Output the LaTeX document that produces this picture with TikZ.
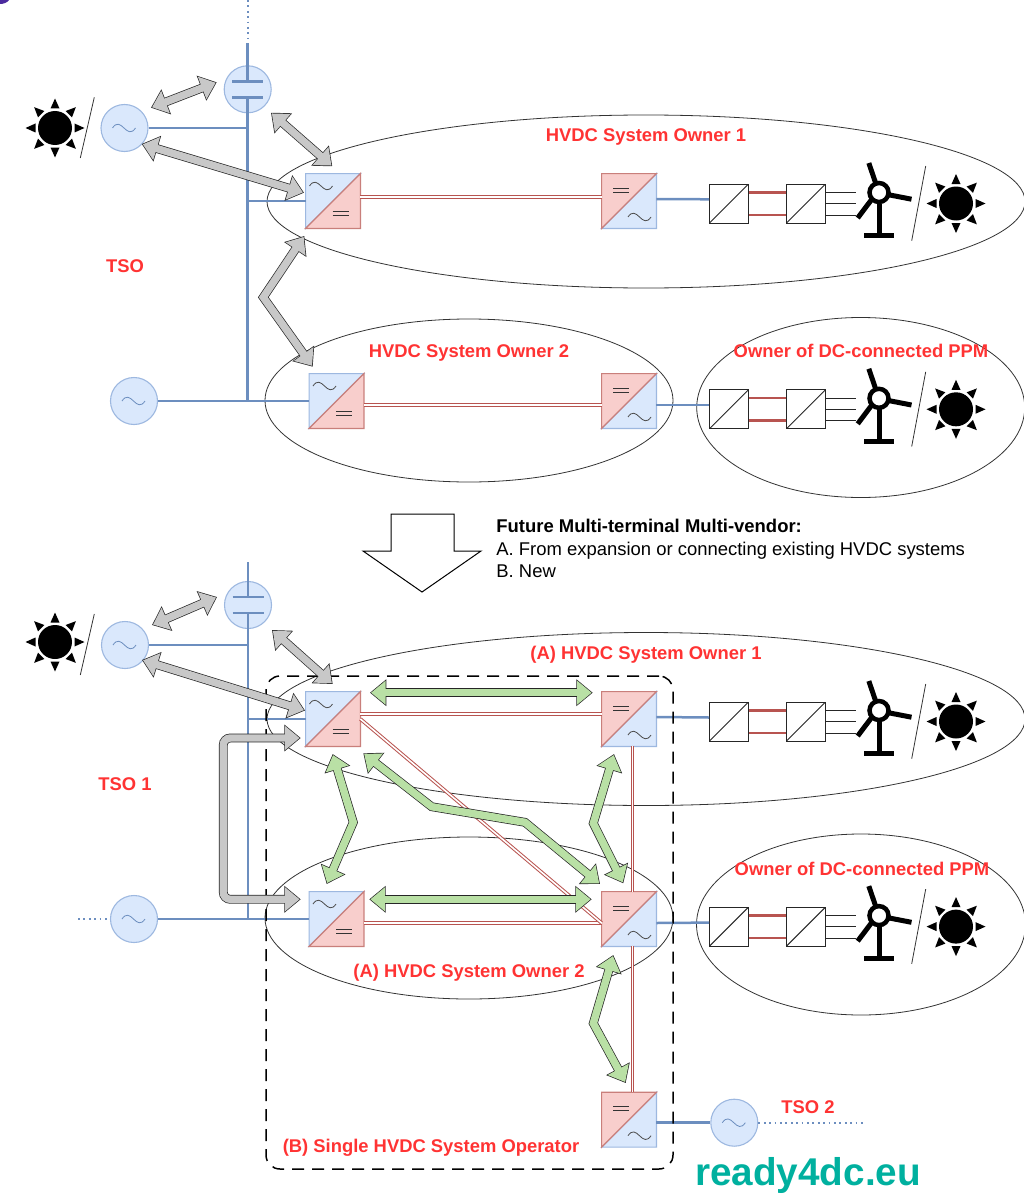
\documentclass[tikz,border=0pt]{standalone}
\usepackage{fontspec}
\setmainfont{Liberation Sans}
\usetikzlibrary{arrows.meta, shapes.geometric, calc}
\definecolor{acfill}{HTML}{DAE8FC}
\definecolor{acedge}{HTML}{9DB8E0}
\definecolor{busline}{HTML}{6C8EBF}
\definecolor{dcfill}{HTML}{F8CECC}
\definecolor{dcedge}{HTML}{C97F7B}
\definecolor{dcbar}{HTML}{B85450}
\definecolor{flowgray}{HTML}{C8C8C8}
\definecolor{flowgreen}{HTML}{B9E0A5}
\definecolor{ownerred}{HTML}{FF3333}
\definecolor{brandteal}{HTML}{00B09F}
\definecolor{cornerink}{HTML}{4B2A9E}

\newcommand{\waveat}[2]{\draw[line width=.8pt, #2] (#1) .. controls +(4,-6) and +(-4,-4) .. ++(11.5,0) .. controls +(4,4) and +(-4,6) .. ++(11.5,0);}
% converter with the ac side on top
\newcommand{\convup}[2]{%
  \node[convbox] (#1) at (#2) {};
  \draw[acedge, line width=1.2pt, fill=acfill] (#1.south west) -- (#1.north west) -- (#1.north east) -- cycle;
  \draw[dcedge, line width=1.2pt, fill=dcfill] (#1.south west) -- (#1.south east) -- (#1.north east) -- cycle;
  \waveat{$(#1.center)+(-23.5,-15)$}{black!70}
  \draw[black!80] ([shift={(-.5,10)}]#1.center) -- ++(16,0) ([shift={(-.5,14)}]#1.center) -- ++(16,0);
}
% converter with the dc side on top
\newcommand{\convdown}[2]{%
  \node[convbox] (#1) at (#2) {};
  \draw[acedge, line width=1.2pt, fill=acfill] (#1.south west) -- (#1.south east) -- (#1.north east) -- cycle;
  \draw[dcedge, line width=1.2pt, fill=dcfill] (#1.south west) -- (#1.north west) -- (#1.north east) -- cycle;
  \waveat{$(#1.center)+(-1,16)$}{black!70}
  \draw[black!80] ([shift={(-16,-13)}]#1.center) -- ++(16,0) ([shift={(-16,-9)}]#1.center) -- ++(16,0);
}

\tikzset{
  convbox/.style={rectangle, minimum size=54pt, inner sep=0pt},
  acsource/.style={circle, draw=acedge, line width=1.1pt, fill=acfill, minimum size=47pt, inner sep=0pt},
  owner/.style={ellipse, draw=black!80, inner sep=0pt},
  bus/.style={busline, line width=2.5pt},
  dotbus/.style={busline, line width=1.8pt, dash pattern=on 1.8pt off 3.6pt},
  dclink/.style={dcbar, line width=1pt, double=white, double distance=1.6pt},
  dcdcbox/.style={rectangle, draw=black!85, line width=1pt, fill=white, minimum size=39pt, inner sep=0pt,
                  path picture={\draw[black!85, line width=.9pt] (path picture bounding box.south west) -- (path picture bounding box.north east);}},
  ownerlabel/.style={text=ownerred, text height=13pt, text depth=4pt, inner sep=0pt, font=\fontsize{18.4}{22}\selectfont\bfseries},
  flowarrow/.style={line width=7.4pt, draw=#1, line join=miter,
    {Triangle[length=14.5pt,width=23pt]}-{Triangle[length=14.5pt,width=23pt]},
    shorten <=1.1pt, shorten >=1.1pt,
    preaction={draw=black!85, line width=8.8pt, shorten <=0pt, shorten >=0pt,
      {Triangle[length=16.3pt,width=25.8pt]}-{Triangle[length=16.3pt,width=25.8pt]}}},
  loopflow/.style={line width=7.4pt, draw=flowgray, rounded corners=7pt,
    {Triangle[length=14.5pt,width=23pt]}-{Triangle[length=14.5pt,width=23pt]},
    shorten <=1.1pt, shorten >=1.1pt,
    preaction={draw=black!85, line width=8.8pt, shorten <=0pt, shorten >=0pt,
      {Triangle[length=16.3pt,width=25.8pt]}-{Triangle[length=16.3pt,width=25.8pt]}}},
  pics/sunicon/.style={code={
    \fill (0,0) circle (17);
    \foreach \a in {0,45,...,315}
      \fill[rotate=\a] (19.5,-4.5) -- (29.5,0) -- (19.5,4.5) -- cycle;
  }},
  pics/turbine/.style={code={
    \draw[line width=4.5pt] (0,0) circle (9.5);
    \draw[line width=5pt] (-3.2,-9) -- (-10.2,-29.5) (9.3,2.2) -- (32.5,6.7) (-7,6.5) -- (-21.3,25.5);
    \draw[line width=5pt] (0,11) -- (0,43);
    \draw[line width=5pt] (-15,43) -- (15,43);
  }},
  pics/windfarm/.style={code={
    \node[dcdcbox] (-conva) at (0,0) {};
    \node[dcdcbox] (-convb) at (77,0) {};
    \draw[dcbar, line width=2.8pt] ([yshift=11.4pt]-conva.east) -- ([yshift=11.4pt]-convb.west);
    \draw[dcbar, line width=2.8pt] ([yshift=-11.4pt]-conva.east) -- ([yshift=-11.4pt]-convb.west);
    \draw[black!85] ([yshift=11.4pt]-convb.east) -- ++(30,0);
    \draw[black!85] (-convb.east) -- ++(30,0);
    \draw[black!85] ([yshift=-11.4pt]-convb.east) -- ++(30,0);
    \pic at (150,-11) {turbine};
    \draw[black!80] (196.7,-37.5) -- (182.7,37.2);
    \pic at (227,0) {sunicon};
  }},
}

\begin{document}
\begin{tikzpicture}[x=1pt, y=-1pt, line width=.8pt]
  \useasboundingbox (0,0) rectangle (1024,1196);
  \fill[cornerink] (0,0) -- (9,0) .. controls (7,3) and (3,4) .. (0,4) -- cycle;

  % before: owners
  \node[owner, minimum width=758pt, minimum height=173pt] (owner1) at (646,201.5) {};
  \node[owner, minimum width=408pt, minimum height=163pt] (owner2) at (469,400.5) {};
  \node[owner, minimum width=328pt, minimum height=180pt] (ownerppm) at (860.7,407.5) {};

  \pic at (55,128) {sunicon};
  \draw[black!80] (94.3,97.3) -- (80.3,158);
  \node[acsource] (ac1) at (124.5,128) {};
  \waveat{$(ac1.center)+(-12,0)$}{busline}
  \node[acsource] (cap1) at (247.7,89.3) {};
  \node[acsource] (ac2) at (134,401) {};
  \waveat{$(ac2.center)+(-12,0)$}{busline}

  \convup{c1}{333,201}
  \convdown{c2}{629,201}
  \convup{c3}{336.5,401}
  \convdown{c4}{629,401}

  \coordinate (topfree) at (247.7,0);
  \draw[dotbus] (topfree) -- ++(0,38);
  \draw[bus] ([yshift=46pt]cap1.center) -- ([yshift=8pt]cap1.center);
  \draw[bus] ([xshift=-15.5pt,yshift=8pt]cap1.center) -- ++(31,0);
  \draw[bus] ([xshift=-15.5pt,yshift=-8pt]cap1.center) -- ++(31,0);
  \draw[bus] ([yshift=-8pt]cap1.center) |- (ac2.east);
  \draw[bus] (ac1.east) -- (ac1.east -| cap1);
  \draw[bus] (c1.west -| cap1) -- (c1.west);
  \draw[bus] (ac2.east) -- (c3.west);
  \draw[dclink] ([yshift=4pt]c1.east) -- ([yshift=4pt]c2.west);
  \draw[dclink] ([yshift=-4pt]c3.east) -- ([yshift=-4pt]c4.west);

  \pic (farm1) at (729,203.5) {windfarm};
  \pic (farm2) at (729,409.3) {windfarm};
  \draw[bus] ([yshift=2pt]c2.east) -- ([yshift=4.2pt]farm1-conva.west);
  \draw[bus] ([yshift=-4pt]c4.east) -- ([yshift=4.3pt]farm2-conva.west);

  \node[ownerlabel] (lab1) at (646,137.5) {HVDC System Owner 1};
  \node[ownerlabel] (lab2) at (125,267.5) {TSO};
  \node[ownerlabel] (lab3) at (469,352.5) {HVDC System Owner 2};
  \node[ownerlabel] (lab4) at (861,352.5) {Owner of DC-connected PPM};

  \draw[flowarrow=flowgray] ([shift={(26.5,-20.3)}]ac1.center) -- ([shift={(-31,-7)}]cap1.center);
  \draw[flowarrow=flowgray] ([shift={(23.3,23.4)}]cap1.center) -- ([shift={(-.7,-34.7)}]c1.center);
  \draw[flowarrow=flowgray] ([shift={(17.2,16)}]ac1.center) -- ([shift={(-29,-8.3)}]c1.center);
  \draw[flowarrow=flowgray] ([shift={(-28.7,35)}]c1.center) -- (263.3,297.3) -- ([shift={(-23.8,-34.3)}]c3.center);

  % transition
  \draw[black, line width=1pt, fill=white] (391,514) -- (454,514) -- (454,551) -- (481,551) -- (422,592) -- (363,551) -- (391,551) -- cycle;
  \node[anchor=north west, inner sep=0pt, align=left, font=\fontsize{18.45}{22.6}\selectfont] (future) at (496,519)
    {\textbf{Future Multi-terminal Multi-vendor:}\\A. From expansion or connecting existing HVDC systems\\B. New};

  % after: owners
  \node[owner, minimum width=758pt, minimum height=173pt] (owner1b) at (646,719) {};
  \node[owner, minimum width=408pt, minimum height=162pt] (owner2b) at (469,918) {};
  \node[owner, minimum width=329pt, minimum height=181pt] (ownerppmb) at (861,924.5) {};

  \pic at (55,642) {sunicon};
  \draw[black!80] (94.3,614) -- (80.3,675);
  \node[acsource] (ac3) at (125,645) {};
  \waveat{$(ac3.center)+(-12,0)$}{busline}
  \node[acsource] (cap2) at (248,605) {};
  \node[acsource] (ac4) at (134,919) {};
  \waveat{$(ac4.center)+(-12,0)$}{busline}
  \node[acsource] (ac5) at (734.3,1122.7) {};
  \waveat{$(ac5.center)+(-12,0)$}{busline}

  \convup{c5}{333,719}
  \convdown{c6}{629,719}
  \convup{c7}{336.5,919}
  \convdown{c8}{629,919}
  \convdown{c9}{629,1119.7}

  \draw[bus] ([yshift=43pt]cap2.center) -- ([yshift=8pt]cap2.center);
  \draw[bus] ([xshift=-15.5pt,yshift=8pt]cap2.center) -- ++(31,0);
  \draw[bus] ([xshift=-15.5pt,yshift=-8pt]cap2.center) -- ++(31,0);
  \draw[bus] ([yshift=-8pt]cap2.center) |- (ac4.east);
  \draw[bus] (ac3.east) -- (ac3.east -| cap2);
  \draw[bus] (c5.west -| cap2) -- (c5.west);
  \draw[bus] (ac4.east) -- (c7.west);
  \draw[bus] (c9.east |- ac5.west) -- (ac5.west);
  \coordinate (leftfree) at (78,919);
  \coordinate (rightfree) at (866,1122.7);
  \draw[dotbus] (leftfree) -- (ac4.west);
  \draw[dotbus] (ac5.east) -- (rightfree);

  \draw[dclink] ([yshift=5pt]c5.east) -- ([yshift=5pt]c6.west);
  \draw[dclink] ([yshift=-4pt]c7.east) -- ([yshift=-4pt]c8.west);
  \draw[dclink] (c5.east) -- ([yshift=-4pt]c8.west);
  \draw[dclink] ([xshift=3.3pt]c6.south) -- ([xshift=3.3pt]c8.north);
  \draw[dclink] ([xshift=3.3pt]c8.south) -- ([xshift=3.3pt]c9.north);

  \pic (farm3) at (729,721.5) {windfarm};
  \pic (farm4) at (729,926.6) {windfarm};
  \draw[bus] ([yshift=2pt]c6.east) -- ([yshift=4pt]farm3-conva.west);
  \draw[bus] ([yshift=-4pt]c8.east) -- ([yshift=4pt]farm4-conva.west);

  \node[draw=black, line width=1.5pt, dash pattern=on 12pt off 8pt, rounded corners=14pt,
        minimum width=407pt, minimum height=493pt, inner sep=0pt] (operator) at (469.5,922.5) {};

  \node[ownerlabel] (lab5) at (646,654.5) {(A) HVDC System Owner 1};
  \node[ownerlabel] (lab6) at (125,785.5) {TSO 1};
  \node[ownerlabel] (lab7) at (862,870.5) {Owner of DC-connected PPM};
  \node[ownerlabel] (lab8) at (469,972.5) {(A) HVDC System Owner 2};
  \node[ownerlabel] (lab9) at (431,1147.5) {(B) Single HVDC System Operator};
  \node[ownerlabel] (lab10) at (808,1109.2) {TSO 2};
  \node[text=brandteal, font=\fontsize{38.7}{44}\selectfont\bfseries] (brand) at (808,1175) {ready4dc.eu};

  \draw[flowarrow=flowgray] ([shift={(27,-20)}]ac3.center) -- ([shift={(-31,-8)}]cap2.center);
  \draw[flowarrow=flowgray] ([shift={(24,25)}]cap2.center) -- ([shift={(-.3,-35)}]c5.center);
  \draw[flowarrow=flowgray] ([shift={(17,15)}]ac3.center) -- ([shift={(-28,-8.5)}]c5.center);
  \draw[loopflow] ([shift={(-32.3,19)}]c5.center) -| (223.3,899.3) -- ([shift={(-35.8,-19.7)}]c7.center);

  \draw[flowarrow=flowgreen] ([shift={(37,-26.3)}]c5.center) -- ([shift={(-36.3,-26.3)}]c6.center);
  \draw[flowarrow=flowgreen] ([shift={(32.8,-19.7)}]c7.center) -- ([shift={(-37.3,-19.7)}]c8.center);
  \draw[flowarrow=flowgreen] ([shift={(-.3,35)}]c5.center) -- (353.3,822.3) -- ([shift={(-9.8,-35)}]c7.center);
  \draw[flowarrow=flowgreen] ([shift={(30.3,34.3)}]c5.center) -- (431.7,806.7) -- (525,822.3) -- ([shift={(-29,-35)}]c8.center);
  \draw[flowarrow=flowgreen] ([shift={(-15,35)}]c6.center) -- (593.3,823.3) -- ([shift={(-5.7,-35.7)}]c8.center);
  \draw[flowarrow=flowgreen] ([shift={(-15.7,36)}]c8.center) -- (593.3,1023.3) -- ([shift={(-3.3,-36.7)}]c9.center);
\end{tikzpicture}
\end{document}
